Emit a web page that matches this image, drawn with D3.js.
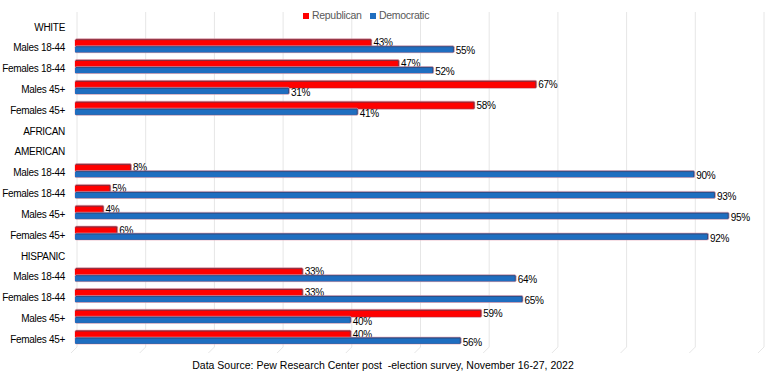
<!DOCTYPE html>
<html>
<head>
<meta charset="utf-8">
<script src="https://cdn.jsdelivr.net/npm/d3@7"></script>
<style>
  body { margin: 0; background: #fff; }
  text { font-family: "Liberation Sans", Arial, sans-serif; }
</style>
</head>
<body>
<div id="chart"></div>
<script>
// categories (group headers have no values)
const categories = [
    "WHITE", "Males 18-44", "Females 18-44", "Males 45+", "Females 45+",
    "AFRICAN", "AMERICAN", "Males 18-44 ", "Females 18-44 ", "Males 45+ ", "Females 45+ ",
    "HISPANIC", "Males 18-44  ", "Females 18-44  ", "Males 45+  ", "Females 45+  "
];
const republican = [null, 43, 47, 67, 58, null, null, 8, 5, 4, 6, null, 33, 33, 59, 40];
const democratic = [null, 55, 52, 31, 41, null, null, 90, 93, 95, 92, null, 64, 65, 40, 56];
const xTicks = [0, 10, 20, 30, 40, 50, 60, 70, 80, 90, 100];
const seriesNames = ["Republican", "Democratic"];

function barChart() {
    const width = 768, height = 375;

    const svg = d3.select("#chart")
        .append("svg")
        .attr("width", width)
        .attr("height", height);

    const color = d3.scaleOrdinal()
        .domain(seriesNames)
        .range(["#ff0000", "#1f6ec0"]);
    const edge = { Republican: "#8b2a3a", Democratic: "#2d4f86" };

    const xScale = d3.scaleLinear().domain([0, 100]).range([75, 762]);
    const yScale = d3.scaleBand().domain(categories).range([17, 350]);

    // grid lines (back wall, slightly offset)
    const grid = svg.append("g");
    grid.selectAll("line.grid")
        .data(xTicks)
        .join("line")
        .attr("class", "grid")
        .attr("x1", d => xScale(d) + 2)
        .attr("x2", d => xScale(d) + 2)
        .attr("y1", 12)
        .attr("y2", 347)
        .attr("stroke", "#e6e6e6")
        .attr("stroke-width", 1);
    // floor slants
    grid.selectAll("line.floor")
        .data(xTicks)
        .join("line")
        .attr("class", "floor")
        .attr("x1", d => xScale(d) + 2)
        .attr("x2", d => xScale(d) - 4)
        .attr("y1", 347)
        .attr("y2", 353)
        .attr("stroke", "#e6e6e6")
        .attr("stroke-width", 1);

    // y axis labels
    svg.append("g")
        .attr("transform", "translate(65,0)")
        .call(d3.axisLeft(yScale).tickSize(0).tickPadding(0).tickFormat(d => d.trim()))
        .call(g => g.select(".domain").remove())
        .selectAll("text")
        .attr("font-family", "Liberation Sans, Arial, sans-serif")
        .attr("font-size", 10)
        .attr("letter-spacing", "-0.3px")
        .attr("fill", "#000");

    const rows = categories.map((c, i) => ({ cat: c, rep: republican[i], dem: democratic[i] }))
        .filter(d => d.rep !== null);

    const bars = [
        { key: "Republican", val: d => d.rep, off: -9, h: 7, labOff: -2 },
        { key: "Democratic", val: d => d.dem, off: -2, h: 6, labOff: 6 }
    ];

    bars.forEach(b => {
        const g = svg.append("g");
        const cy = d => yScale(d.cat) + yScale.bandwidth() / 2;
        // outline / shadow
        g.selectAll("rect.shade")
            .data(rows)
            .join("rect")
            .attr("class", "shade")
            .attr("x", xScale(0))
            .attr("y", d => cy(d) + b.off - 0.5)
            .attr("width", d => xScale(b.val(d)) - xScale(0) + 1.5)
            .attr("height", b.h + 1)
            .attr("rx", 1.5)
            .attr("fill", edge[b.key])
            .attr("stroke", "#e8a0b0")
            .attr("stroke-width", 0.6);
        g.selectAll("rect.bar")
            .data(rows)
            .join("rect")
            .attr("class", "bar")
            .attr("x", xScale(0))
            .attr("y", d => cy(d) + b.off + 1)
            .attr("width", d => xScale(b.val(d)) - xScale(0))
            .attr("height", b.h - 1)
            .attr("fill", color(b.key));
        g.selectAll("text")
            .data(rows)
            .join("text")
            .attr("x", d => xScale(b.val(d)) + 3)
            .attr("y", d => cy(d) + b.labOff)
            .attr("font-size", 10)
            .attr("letter-spacing", "-0.3px")
            .attr("fill", "#000")
            .text(d => b.val(d) + "%");
    });

    // legend
    const legend = svg.append("g").attr("transform", "translate(303,11)");
    const items = legend.selectAll("g")
        .data(seriesNames)
        .join("g")
        .attr("transform", (d, i) => `translate(${i * 67},0)`);
    items.append("rect")
        .attr("y", 2)
        .attr("width", 6)
        .attr("height", 6)
        .attr("fill", color);
    items.append("text")
        .attr("x", 9)
        .attr("y", 8)
        .attr("font-size", 10.5)
        .attr("letter-spacing", "-0.3px")
        .attr("fill", "#595959")
        .text(d => d);

    // source note
    svg.append("text")
        .attr("x", 383)
        .attr("y", 369)
        .attr("text-anchor", "middle")
        .attr("font-size", 10.5)
        .attr("fill", "#000")
        .style("white-space", "pre")
        .text("Data Source: Pew Research Center post  -election survey, November 16-27, 2022");
}

barChart();
</script>
</body>
</html>
